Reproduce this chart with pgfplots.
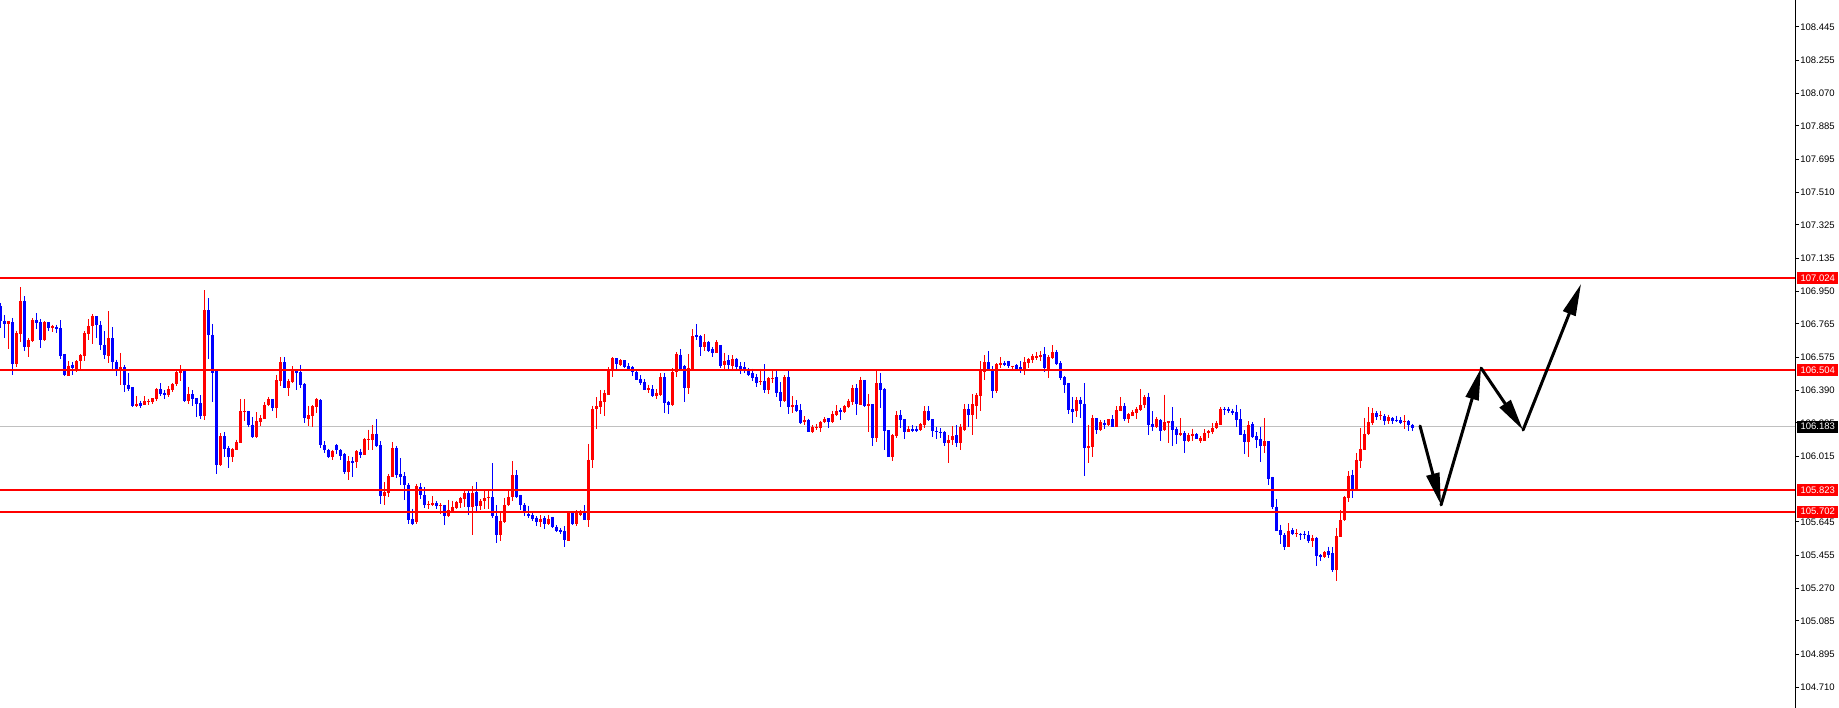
\documentclass[border=0pt]{standalone}
\usepackage{fontspec}
\setmainfont{Liberation Sans}
\usepackage{pgfplots}
\pgfplotsset{compat=1.18}
\usepackage{pgfplotstable}
\usetikzlibrary{arrows.meta}
\definecolor{cred}{RGB}{255,0,0}
\definecolor{cblue}{RGB}{0,0,255}
\definecolor{cgrey}{RGB}{192,192,192}

% candles: index, open, high, low, close
\pgfplotstableread{
i o h l c
0 106.865 106.884 106.742 106.780
1 106.784 106.814 106.686 106.765
2 106.765 106.780 106.625 106.780
3 106.774 106.799 106.474 106.539
4 106.539 106.727 106.520 106.712
5 106.708 106.973 106.663 106.893
6 106.893 106.922 106.610 106.633
7 106.633 106.686 106.576 106.673
8 106.667 106.799 106.663 106.786
9 106.786 106.826 106.738 106.771
10 106.774 106.793 106.629 106.673
11 106.671 106.780 106.667 106.774
12 106.774 106.774 106.723 106.742
13 106.742 106.761 106.719 106.752
14 106.746 106.761 106.714 106.738
15 106.740 106.786 106.568 106.582
16 106.593 106.593 106.469 106.474
17 106.470 106.554 106.470 106.529
18 106.535 106.550 106.474 106.516
19 106.512 106.559 106.493 106.554
20 106.557 106.595 106.503 106.587
21 106.582 106.723 106.554 106.712
22 106.708 106.790 106.673 106.752
23 106.752 106.822 106.652 106.809
24 106.809 106.809 106.686 106.761
25 106.761 106.780 106.616 106.644
26 106.648 106.723 106.568 106.587
27 106.582 106.837 106.545 106.684
28 106.684 106.746 106.507 106.548
29 106.548 106.563 106.472 106.507
30 106.501 106.601 106.417 106.520
31 106.520 106.535 106.380 106.421
32 106.421 106.488 106.384 106.399
33 106.406 106.406 106.293 106.299
34 106.299 106.356 106.293 106.314
35 106.316 106.331 106.289 106.300
36 106.308 106.356 106.304 106.327
37 106.321 106.342 106.308 106.329
38 106.321 106.344 106.312 106.344
39 106.340 106.403 106.327 106.395
40 106.395 106.429 106.356 106.369
41 106.373 106.392 106.340 106.361
42 106.365 106.412 106.350 106.395
43 106.390 106.431 106.380 106.425
44 106.425 106.501 106.412 106.491
45 106.488 106.531 106.440 106.510
46 106.501 106.505 106.323 106.327
47 106.327 106.410 106.312 106.367
48 106.367 106.390 106.299 106.340
49 106.344 106.344 106.239 106.314
50 106.316 106.361 106.227 106.243
51 106.243 106.956 106.220 106.842
52 106.842 106.910 106.566 106.703
53 106.703 106.765 106.323 106.488
54 106.501 106.505 105.916 105.969
55 105.965 106.146 105.961 106.129
56 106.129 106.151 106.010 106.057
57 106.061 106.072 105.950 106.012
58 106.012 106.063 105.984 106.055
59 106.050 106.110 106.050 106.095
60 106.091 106.338 106.091 106.270
61 106.264 106.338 106.214 106.270
62 106.270 106.274 106.180 106.191
63 106.195 106.237 106.120 106.123
64 106.123 106.264 106.120 106.214
65 106.210 106.248 106.186 106.231
66 106.227 106.321 106.227 106.308
67 106.308 106.352 106.302 106.338
68 106.338 106.338 106.270 106.289
69 106.289 106.478 106.233 106.446
70 106.440 106.576 106.412 106.548
71 106.548 106.576 106.403 106.403
72 106.403 106.455 106.356 106.440
73 106.434 106.524 106.429 106.501
74 106.501 106.505 106.392 106.488
75 106.491 106.535 106.403 106.417
76 106.425 106.429 106.205 106.233
77 106.227 106.302 106.186 106.248
78 106.243 106.304 106.182 106.299
79 106.295 106.346 106.261 106.340
80 106.334 106.340 106.063 106.078
81 106.078 106.101 106.035 106.052
82 106.054 106.059 106.006 106.012
83 106.012 106.054 105.993 106.048
84 106.078 106.086 106.029 106.052
85 106.054 106.057 105.993 106.016
86 106.027 106.033 105.916 105.925
87 105.927 106.016 105.882 105.988
88 105.988 106.010 105.899 105.980
89 105.984 106.050 105.950 106.044
90 106.042 106.059 106.006 106.023
91 106.023 106.120 106.023 106.112
92 106.108 106.167 106.054 106.114
93 106.108 106.191 106.052 106.144
94 106.144 106.225 106.067 106.072
95 106.078 106.101 105.746 105.793
96 105.793 105.870 105.738 105.812
97 105.808 105.916 105.784 105.903
98 105.899 106.095 105.899 106.061
99 106.061 106.074 105.893 105.908
100 105.914 106.004 105.855 105.899
101 105.903 105.925 105.767 105.851
102 105.855 105.863 105.633 105.656
103 105.659 105.719 105.625 105.635
104 105.642 105.859 105.633 105.846
105 105.840 105.863 105.772 105.795
106 105.795 105.840 105.721 105.738
107 105.738 105.765 105.719 105.746
108 105.742 105.790 105.733 105.750
109 105.750 105.761 105.719 105.733
110 105.733 105.750 105.690 105.742
111 105.738 105.742 105.625 105.678
112 105.676 105.769 105.672 105.710
113 105.705 105.765 105.701 105.727
114 105.723 105.765 105.715 105.755
115 105.752 105.788 105.723 105.778
116 105.774 105.818 105.729 105.807
117 105.807 105.825 105.686 105.729
118 105.729 105.846 105.568 105.808
119 105.814 105.868 105.705 105.736
120 105.733 105.772 105.714 105.765
121 105.761 105.823 105.717 105.780
122 105.780 105.825 105.719 105.788
123 105.784 105.976 105.667 105.680
124 105.680 105.738 105.525 105.572
125 105.572 105.701 105.538 105.648
126 105.644 105.780 105.639 105.742
127 105.738 105.827 105.733 105.786
128 105.786 105.988 105.765 105.908
129 105.908 105.937 105.780 105.786
130 105.795 105.799 105.712 105.742
131 105.742 105.750 105.680 105.692
132 105.690 105.736 105.667 105.676
133 105.682 105.694 105.648 105.663
134 105.669 105.676 105.620 105.644
135 105.644 105.682 105.614 105.663
136 105.667 105.676 105.606 105.635
137 105.633 105.686 105.625 105.663
138 105.671 105.674 105.610 105.616
139 105.616 105.625 105.587 105.591
140 105.601 105.610 105.576 105.587
141 105.591 105.620 105.501 105.543
142 105.538 105.705 105.535 105.701
143 105.701 105.705 105.625 105.635
144 105.633 105.710 105.620 105.692
145 105.686 105.710 105.680 105.701
146 105.692 105.738 105.654 105.654
147 105.654 106.086 105.614 105.997
148 105.993 106.302 105.950 106.284
149 106.284 106.350 106.170 106.300
150 106.293 106.392 106.255 106.327
151 106.323 106.392 106.244 106.373
152 106.365 106.520 106.361 106.505
153 106.505 106.576 106.467 106.570
154 106.570 106.570 106.507 106.537
155 106.535 106.565 106.529 106.561
156 106.559 106.559 106.516 106.522
157 106.526 106.543 106.501 106.510
158 106.520 106.526 106.472 106.490
159 106.491 106.501 106.446 106.450
160 106.455 106.474 106.417 106.431
161 106.434 106.451 106.390 106.392
162 106.392 106.421 106.375 106.403
163 106.397 106.417 106.350 106.359
164 106.359 106.395 106.340 106.375
165 106.361 106.486 106.356 106.463
166 106.463 106.488 106.259 106.318
167 106.321 106.331 106.255 106.308
168 106.304 106.514 106.299 106.493
169 106.490 106.604 106.463 106.595
170 106.591 106.621 106.497 106.512
171 106.524 106.535 106.323 106.403
172 106.403 106.595 106.369 106.516
173 106.512 106.734 106.507 106.694
174 106.701 106.765 106.671 106.692
175 106.694 106.703 106.582 106.633
176 106.633 106.705 106.614 106.661
177 106.661 106.667 106.606 106.614
178 106.621 106.633 106.580 106.599
179 106.599 106.673 106.599 106.665
180 106.644 106.644 106.516 106.524
181 106.531 106.601 106.507 106.557
182 106.559 106.587 106.508 106.531
183 106.529 106.587 106.505 106.568
184 106.568 106.572 106.505 106.520
185 106.524 106.548 106.482 106.512
186 106.520 106.548 106.488 106.505
187 106.508 106.518 106.470 106.478
188 106.486 106.512 106.440 106.459
189 106.463 106.482 106.406 106.431
190 106.436 106.512 106.421 106.440
191 106.440 106.537 106.375 106.392
192 106.392 106.463 106.369 106.457
193 106.453 106.501 106.431 106.459
194 106.463 106.501 106.350 106.373
195 106.378 106.434 106.293 106.327
196 106.327 106.474 106.323 106.463
197 106.463 106.501 106.255 106.295
198 106.295 106.356 106.259 106.304
199 106.304 106.333 106.266 106.272
200 106.276 106.312 106.199 106.205
201 106.208 106.241 106.195 106.220
202 106.220 106.229 106.153 106.153
203 106.153 106.191 106.149 106.180
204 106.176 106.199 106.167 106.182
205 106.176 106.218 106.151 106.212
206 106.210 106.237 106.203 106.225
207 106.231 106.231 106.174 106.208
208 106.208 106.274 106.203 106.255
209 106.248 106.304 106.241 106.274
210 106.276 106.291 106.223 106.266
211 106.266 106.308 106.262 106.300
212 106.295 106.342 106.289 106.327
213 106.321 106.421 106.304 106.403
214 106.403 106.425 106.248 106.312
215 106.308 106.467 106.304 106.448
216 106.448 106.448 106.293 106.299
217 106.299 106.369 106.153 106.310
218 106.310 106.310 106.072 106.120
219 106.120 106.505 106.097 106.429
220 106.429 106.488 106.289 106.390
221 106.397 106.403 106.050 106.157
222 106.163 106.163 106.010 106.010
223 106.012 106.142 105.988 106.136
224 106.131 106.270 106.120 106.248
225 106.252 106.276 106.176 106.220
226 106.225 106.225 106.114 106.151
227 106.151 106.186 106.151 106.170
228 106.168 106.191 106.153 106.161
229 106.168 106.187 106.153 106.161
230 106.163 106.205 106.157 106.199
231 106.195 106.300 106.176 106.274
232 106.270 106.300 106.214 106.220
233 106.225 106.225 106.125 106.157
234 106.157 106.184 106.116 106.153
235 106.153 106.176 106.120 106.148
236 106.153 106.157 106.072 106.091
237 106.089 106.134 105.976 106.110
238 106.106 106.186 106.080 106.129
239 106.134 106.191 106.067 106.089
240 106.091 106.199 106.050 106.180
241 106.167 106.312 106.161 106.284
242 106.284 106.312 106.180 106.248
243 106.248 106.369 106.134 106.310
244 106.300 106.373 106.229 106.361
245 106.356 106.554 106.270 106.501
246 106.493 106.587 106.450 106.548
247 106.548 106.610 106.497 106.497
248 106.501 106.524 106.346 106.384
249 106.384 106.543 106.373 106.537
250 106.533 106.576 106.516 106.545
251 106.545 106.557 106.526 106.533
252 106.554 106.557 106.516 106.526
253 106.524 106.529 106.505 106.529
254 106.531 106.537 106.507 106.512
255 106.520 106.554 106.488 106.505
256 106.505 106.576 106.474 106.548
257 106.545 106.572 106.516 106.566
258 106.561 106.595 106.545 106.582
259 106.572 106.606 106.563 106.584
260 106.580 106.610 106.557 106.587
261 106.595 106.633 106.493 106.514
262 106.512 106.587 106.459 106.580
263 106.572 106.644 106.568 106.604
264 106.604 106.618 106.531 106.539
265 106.543 106.554 106.448 106.457
266 106.463 106.469 106.375 106.417
267 106.429 106.433 106.255 106.278
268 106.282 106.352 106.205 106.268
269 106.270 106.352 106.239 106.333
270 106.333 106.352 106.233 106.312
271 106.312 106.429 105.905 106.063
272 106.063 106.195 105.978 106.072
273 106.067 106.252 106.012 106.231
274 106.231 106.231 106.142 106.163
275 106.165 106.223 106.161 106.208
276 106.206 106.220 106.172 106.193
277 106.193 106.225 106.187 106.225
278 106.225 106.248 106.180 106.182
279 106.182 106.299 106.180 106.278
280 106.270 106.350 106.270 106.299
281 106.302 106.316 106.214 106.227
282 106.227 106.262 106.205 106.254
283 106.246 106.278 106.241 106.266
284 106.261 106.293 106.229 106.284
285 106.280 106.395 106.274 106.308
286 106.304 106.361 106.289 106.350
287 106.350 106.376 106.138 106.191
288 106.201 106.270 106.161 106.180
289 106.180 106.237 106.176 106.227
290 106.223 106.229 106.104 106.161
291 106.163 106.365 106.161 106.208
292 106.205 106.214 106.091 106.214
293 106.214 106.293 106.074 106.165
294 106.168 106.180 106.086 106.136
295 106.134 106.233 106.129 106.146
296 106.146 106.157 106.035 106.101
297 106.101 106.149 106.095 106.134
298 106.131 106.172 106.101 106.144
299 106.142 106.146 106.114 106.116
300 106.104 106.129 106.089 106.120
301 106.101 106.168 106.101 106.146
302 106.146 106.167 106.120 106.161
303 106.153 106.203 106.142 106.176
304 106.176 106.218 106.168 106.203
305 106.195 106.293 106.191 106.286
306 106.286 106.293 106.252 106.276
307 106.284 106.293 106.261 106.270
308 106.274 106.286 106.248 106.261
309 106.264 106.308 106.180 106.222
310 106.225 106.282 106.136 106.136
311 106.140 106.163 106.029 106.097
312 106.097 106.214 106.012 106.195
313 106.197 106.210 106.120 106.125
314 106.129 106.151 106.063 106.110
315 106.114 106.180 105.984 106.074
316 106.074 106.233 106.035 106.101
317 106.101 106.101 105.855 105.888
318 105.897 105.901 105.719 105.727
319 105.731 105.772 105.595 105.595
320 105.599 105.629 105.520 105.568
321 105.572 105.582 105.485 105.504
322 105.504 105.637 105.501 105.595
323 105.597 105.610 105.572 105.576
324 105.576 105.603 105.561 105.582
325 105.578 105.582 105.543 105.572
326 105.578 105.591 105.550 105.568
327 105.572 105.591 105.525 105.538
328 105.538 105.572 105.503 105.554
329 105.554 105.557 105.395 105.450
330 105.459 105.463 105.421 105.446
331 105.446 105.478 105.440 105.474
332 105.478 105.505 105.440 105.459
333 105.467 105.501 105.361 105.374
334 105.374 105.610 105.308 105.563
335 105.561 105.712 105.559 105.654
336 105.654 105.791 105.652 105.784
337 105.780 105.931 105.757 105.906
338 105.908 105.940 105.780 105.833
339 105.833 106.035 105.827 105.997
340 105.991 106.176 105.950 106.059
341 106.054 106.233 106.054 106.144
342 106.140 106.293 106.136 106.208
343 106.203 106.289 106.195 106.259
344 106.259 106.270 106.222 106.239
345 106.241 106.274 106.222 106.248
346 106.244 106.255 106.195 106.218
347 106.218 106.252 106.199 106.237
348 106.233 106.237 106.199 106.214
349 106.223 106.246 106.210 106.218
350 106.222 106.237 106.199 106.205
351 106.208 106.248 106.172 106.214
352 106.214 106.222 106.161 106.191
353 106.195 106.199 106.161 106.176
}\candles

\newcommand{\lblfont}{\fontsize{9.5}{11}\selectfont}

\begin{document}
\begin{tikzpicture}
\begin{axis}[
  at={(0,0)}, anchor=south west,
  width=1795pt, height=708pt, scale only axis,
  xmin=0, xmax=448.75,
  ymin=104.5912, ymax=108.5978,
  axis x line=none,
  axis y line*=right,
  axis line style={black, line width=1pt},
  xtick=\empty,
  ytick={104.710,104.895,105.085,105.270,105.455,105.645,106.015,106.205,106.390,106.575,106.765,106.950,107.135,107.325,107.510,107.695,107.885,108.070,108.255,108.445},
  yticklabels={104.710,104.895,105.085,105.270,105.455,105.645,106.015,106.205,106.390,106.575,106.765,106.950,107.135,107.325,107.510,107.695,107.885,108.070,108.255,108.445},
  tick align=outside,
  major tick length=4pt,
  tick style={black, line width=1pt},
  yticklabel style={font=\lblfont, inner sep=0pt, anchor=west, text=black},
  yticklabel shift=1pt,
]
  % current price line
  \draw[cgrey, line width=1pt] (axis cs:0,106.183) -- (axis cs:448.75,106.183);

  % wicks
  \addplot[draw=none, mark=none, forget plot,
    restrict expr to domain={\thisrow{c}-\thisrow{o}}{0:10},
    error bars/.cd, y dir=minus, y explicit, error mark=none,
    error bar style={draw=cred, line width=1pt}]
    table[x=i, y=h, y error minus expr={\thisrow{h}-\thisrow{l}}] {\candles};
  \addplot[draw=none, mark=none, forget plot,
    restrict expr to domain={\thisrow{o}-\thisrow{c}}{0.0001:10},
    error bars/.cd, y dir=minus, y explicit, error mark=none,
    error bar style={draw=cblue, line width=1pt}]
    table[x=i, y=h, y error minus expr={\thisrow{h}-\thisrow{l}}] {\candles};
  % bodies
  \addplot[draw=none, mark=none, forget plot,
    restrict expr to domain={\thisrow{c}-\thisrow{o}}{0:10},
    error bars/.cd, y dir=minus, y explicit, error mark=none,
    error bar style={draw=cred, line width=3pt}]
    table[x=i, y expr={max(\thisrow{o},\thisrow{c})},
      y error minus expr={max(abs(\thisrow{c}-\thisrow{o}),0.005)}] {\candles};
  \addplot[draw=none, mark=none, forget plot,
    restrict expr to domain={\thisrow{o}-\thisrow{c}}{0.0001:10},
    error bars/.cd, y dir=minus, y explicit, error mark=none,
    error bar style={draw=cblue, line width=3pt}]
    table[x=i, y expr={max(\thisrow{o},\thisrow{c})},
      y error minus expr={max(abs(\thisrow{c}-\thisrow{o}),0.005)}] {\candles};

  % levels
  \draw[cred, line width=2pt] (axis cs:0,107.024) -- (axis cs:448.75,107.024);
  \draw[cred, line width=2pt] (axis cs:0,106.504) -- (axis cs:448.75,106.504);
  \draw[cred, line width=2pt] (axis cs:0,105.823) -- (axis cs:448.75,105.823);
  \draw[cred, line width=2pt] (axis cs:0,105.702) -- (axis cs:448.75,105.702);

  % projected path
  \begin{scope}[black, line width=3pt, line cap=round]
    \draw[-{Triangle[length=32pt,width=13pt]}] (axis cs:355,106.187) -- (axis cs:360.25,105.740);
    \draw[-{Triangle[length=32pt,width=13pt]}] (axis cs:360.25,105.740) -- (axis cs:370.25,106.515);
    \draw[-{Triangle[length=32pt,width=13pt]}] (axis cs:370.25,106.515) -- (axis cs:380.75,106.164);
    \draw[-{Triangle[length=32pt,width=13pt]}] (axis cs:380.75,106.164) -- (axis cs:395.25,106.991);
  \end{scope}

  \coordinate (b1) at (axis cs:448.75,107.024);
  \coordinate (b2) at (axis cs:448.75,106.504);
  \coordinate (b3) at (axis cs:448.75,105.823);
  \coordinate (b4) at (axis cs:448.75,105.702);
  \coordinate (b5) at (axis cs:448.75,106.183);
\end{axis}

\foreach \n/\t/\c in {b1/107.024/cred, b2/106.504/cred, b3/105.823/cred, b4/105.702/cred, b5/106.183/black}
  \node[fill=\c, text=white, anchor=west, minimum width=41pt, minimum height=12pt,
        inner sep=0pt, font=\lblfont] at ([xshift=2pt]\n) {\t};

\pgfresetboundingbox
\path[use as bounding box] (0,0) rectangle (1839pt,708pt);
\end{tikzpicture}
\end{document}
